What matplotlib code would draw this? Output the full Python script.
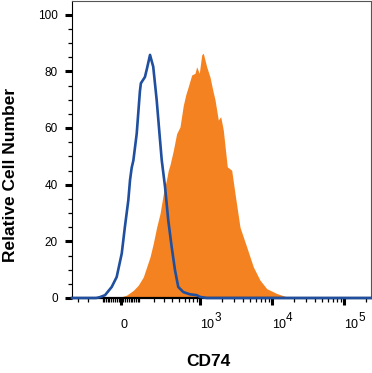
import matplotlib.pyplot as plt
from matplotlib.transforms import blended_transform_factory, ScaledTranslation

plt.rcParams['font.family'] = ['Liberation Sans', 'DejaVu Sans']

# isotype control (blue outline)
blue_x = [-366, -140, -116, -85, -48, -22, 4, 20, 38, 47, 56, 65, 84, 103, 109,
          135, 149, 171, 196, 225, 256, 273, 308, 345, 389, 436, 487, 576, 718,
          893, 994, 1235, 237000]
blue_y = [0, 0, 0.3, 1, 3.9, 7.4, 15.7, 25, 34.5, 41.6, 46, 48.5, 58, 73, 75.8,
          78, 81, 85.8, 81.6, 69.9, 55.7, 48.6, 39.2, 27.5, 18, 9.8, 3.9, 2.1, 1.3,
          1, 0.4, 0, 0]

# CD74 stained cells (orange fill)
orange_x = [-366, -40, -14, 29, 65, 93, 124, 147, 171, 196, 225, 256, 290, 326,
            345, 367, 411, 461, 516, 576, 629, 679, 759, 845, 893, 972, 1051, 1106,
            1235, 1373, 1512, 1613, 1794, 1937, 2105, 2393, 2755, 3063, 3595, 4455,
            5501, 6816, 8448, 11630, 16010, 19770, 237000]
orange_y = [0, 0, 0.1, 1, 2.7, 4.5, 7.4, 11, 14.5, 19.2, 25, 29.8, 36.9, 42,
            45, 47, 52, 58, 60.4, 68, 72, 74.6, 78.7, 79.3, 81.6, 79.3, 85.8, 86.4,
            81.6, 78, 73, 70, 62.8, 64, 59.3, 46.3, 45.1, 36.9, 25, 18,
            11, 6.3, 3.3, 1.6, 0.4, 0, 0]

y_ticks = [0, 20, 40, 60, 80, 100]
x_major = [0, 1e3, 1e4, 1e5]
x_base = ['0', '10', '10', '10']
x_exp = ['', '3', '4', '5']
x_minor = [-300, -200, -100, -90, -80, -70, -60, -50, -40, -30, -20, -10,
           10, 20, 30, 40, 50, 60, 70, 80, 90,
           100, 200, 300, 400, 500, 600, 700, 800, 900,
           2000, 3000, 4000, 5000, 6000, 7000, 8000, 9000,
           20000, 30000, 40000, 50000, 60000, 70000, 80000, 90000, 200000]

fig = plt.figure(figsize=(3.72, 3.73), dpi=100)
ax = fig.add_axes([72/372, 1 - 298/373, 299/372, 297.5/373])

ax.fill_between(orange_x, orange_y, 0, color='#f58220', lw=0, zorder=2)
ax.plot(blue_x, blue_y, color='#1f4f9e', lw=1.9, zorder=3, clip_on=False,
        solid_joinstyle='round')

ax.set_xscale('asinh', linear_width=160)
ax.set_xlim(-366, 237000)
ax.set_ylim(0, 105)

ax.set_xticks(x_major, labels=[''] * len(x_major))
ax.set_xticks(x_minor, minor=True)
ax.set_yticks(y_ticks)
ax.set_yticks([v for v in range(5, 100, 5) if v % 20], minor=True)

ax.tick_params(which='major', direction='out', length=5.3, width=2.2, labelsize=8.5, pad=5)
ax.tick_params(which='minor', direction='out', length=2.8, width=0.9)

# tick labels start at their tick, exponent drawn as its own raised text
tr = blended_transform_factory(ax.transData, ax.transAxes)
for xv, b, e in zip(x_major, x_base, x_exp):
    ax.text(xv, -0.101, b, transform=tr, ha='left', va='baseline', fontsize=9)
    if e:
        off = ScaledTranslation(14/100, 7/100, fig.dpi_scale_trans)
        ax.text(xv, -0.101, e, transform=tr + off, ha='left', va='baseline', fontsize=8.5)

for side in ['left', 'top', 'right']:
    ax.spines[side].set_linewidth(0.8)
ax.spines['top'].set_color('#555555')
ax.spines['right'].set_color('#555555')
ax.spines['bottom'].set_linewidth(1.6)

fig.text(10.5/372, 1 - 175/373, 'Relative Cell Number', rotation=90, fontsize=12.5,
         fontweight='bold', ha='center', va='center')
fig.text(208/372, 1 - 361/373, 'CD74', fontsize=12.5, fontweight='bold',
         ha='center', va='center')

plt.savefig('out.png', dpi=100)
plt.close()
